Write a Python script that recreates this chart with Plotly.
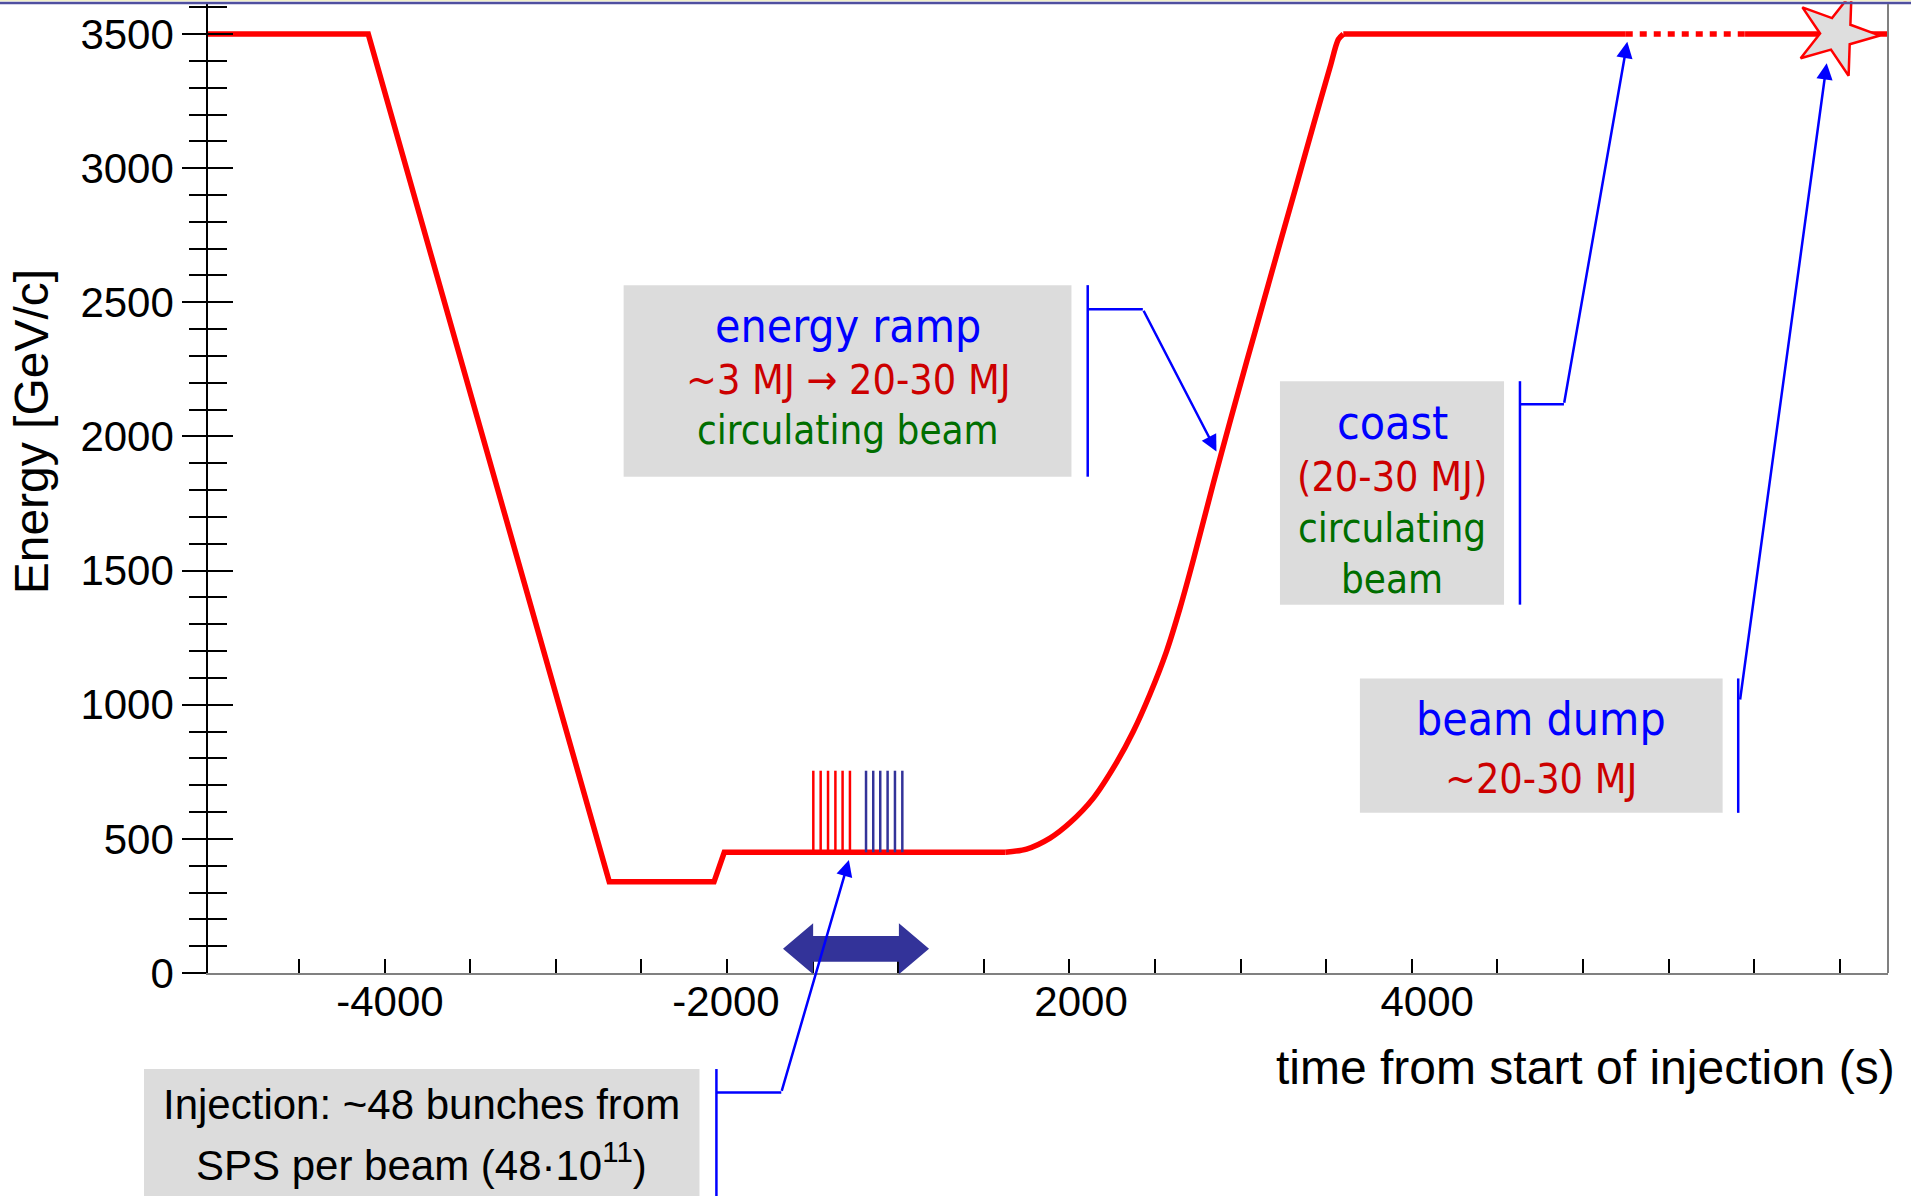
import plotly.graph_objects as go

# ---------------- data ----------------
# flat top, ramp down, injection plateau (linear segments)
pre_t = [-5032, -4096, -2688, -2076, -2016, -373]
pre_e = [3500, 3500, 340, 340, 450, 450]
# energy ramp (smooth)
ramp_t = [-373, -250, -113, 3, 140, 276, 373, 471, 568, 646, 724, 841, 938, 1036,
          1133, 1230, 1328, 1425, 1522, 1571, 1600]
ramp_e = [450, 462, 503, 560, 652, 785, 900, 1040, 1200, 1360, 1540, 1826, 2055, 2280,
          2500, 2720, 2940, 3160, 3375, 3480, 3500]
# coast
coast_t = [1600, 3250]
coast_e = [3500, 3500]
coast_dotted_t = [3250, 3947]
coast_dotted_e = [3500, 3500]
coast_end_t = [3947, 4782]
coast_end_e = [3500, 3500]

beam1_bunches = [-1496, -1453, -1410, -1367, -1325, -1282]
beam2_bunches = [-1188, -1146, -1105, -1062, -1019, -976]
bunch_base, bunch_top = 450, 754

dump_t, dump_e = [4482], [3500]

# tick marks every 500 s, labels as printed on the original
x_tickmarks = [-4500, -4000, -3500, -3000, -2500, -2000, -1500, -1000, -500, 0,
               500, 1000, 1500, 2000, 2500, 3000, 3500, 4000, 4500]
x_label_pos = [-3969, -2006, 68, 2090]
x_label_text = ["-4000", "-2000", "2000", "4000"]

XR = [-5032, 4782]
YR = [0, 3612]

RED = "#ff0000"
TXT_RED = "#cc0000"
BLUE = "#0000ff"
GREEN = "#006e00"
NAVY = "#333399"
GREY_BOX = "#dcdcdc"
BOXFONT = "DejaVu Sans Condensed, Tahoma, DejaVu Sans"
ARIAL = "Liberation Sans, Arial, sans-serif"


def px(u):
    return (u - XR[0]) / (XR[1] - XR[0])


def py(e):
    return (e - YR[0]) / (YR[1] - YR[0])


fig = go.Figure()

line_red = dict(color=RED, width=5.5)
fig.add_trace(go.Scatter(x=pre_t, y=pre_e, mode="lines", line=line_red,
                         hoverinfo="skip", showlegend=False))
fig.add_trace(go.Scatter(x=ramp_t, y=ramp_e, mode="lines",
                         line=dict(color=RED, width=5.5, shape="spline", smoothing=0.8),
                         hoverinfo="skip", showlegend=False))
fig.add_trace(go.Scatter(x=coast_t, y=coast_e, mode="lines", line=line_red,
                         hoverinfo="skip", showlegend=False))
fig.add_trace(go.Scatter(x=coast_dotted_t, y=coast_dotted_e, mode="lines",
                         line=dict(color=RED, width=5.5, dash="7px,7px"), hoverinfo="skip",
                         showlegend=False))
fig.add_trace(go.Scatter(x=coast_end_t, y=coast_end_e, mode="lines", line=line_red,
                         hoverinfo="skip", showlegend=False))


def bunch_xy(lst):
    xs, ys = [], []
    for t in lst:
        xs += [t, t, None]
        ys += [bunch_base, bunch_top, None]
    return xs, ys


bx, by = bunch_xy(beam1_bunches)
fig.add_trace(go.Scatter(x=bx, y=by, mode="lines", line=dict(color=RED, width=2.5),
                         hoverinfo="skip", showlegend=False))
bx, by = bunch_xy(beam2_bunches)
fig.add_trace(go.Scatter(x=bx, y=by, mode="lines", line=dict(color=NAVY, width=2.5),
                         hoverinfo="skip", showlegend=False, xaxis="x2", yaxis="y2"))

# beam dump star
fig.add_trace(go.Scatter(x=dump_t, y=dump_e, mode="markers", cliponaxis=False,
                         marker=dict(symbol="star", size=62, angle=20, color="#dedede",
                                     line=dict(color=RED, width=2.5)),
                         hoverinfo="skip", showlegend=False))

shapes = []
annotations = []

# grey boxes (u0, u1, e0, e1)
boxes = {
    "ramp": (-2604, 12, 1850, 2564),
    "coast": (1230, 2539, 1373, 2206),
    "dump": (1697, 3816, 597, 1098),
    "inj": (-5406, -2161, -880, -358),
}
for b in boxes.values():
    shapes.append(dict(type="rect", xref="paper", yref="paper", x0=px(b[0]), x1=px(b[1]),
                       y0=py(b[2]), y1=py(b[3]), fillcolor=GREY_BOX, line=dict(width=0),
                       layer="below"))

# brackets (vertical + horizontal blue lines)
bracket_lines = [
    ((107, 1850), (107, 2564)), ((107, 2474), (429, 2474)),
    ((2632, 1373), (2632, 2206)), ((2632, 2120), (2889, 2120)),
    ((3907, 597), (3907, 1098)),
    ((-2062, -880), (-2062, -358)), ((-2062, -445), (-1683, -445)),
]
for (a, b) in bracket_lines:
    shapes.append(dict(type="line", xref="paper", yref="paper", x0=px(a[0]), y0=py(a[1]),
                       x1=px(b[0]), y1=py(b[1]), line=dict(color=BLUE, width=2.5)))

# arrows (tail -> tip) in data units
arrows = [((429, 2474), (859, 1944)),
          ((2889, 2120), (3259, 3471)),
          ((3917, 1014), (4424, 3391)),
          ((-1683, -445), (-1288, 421))]
for (tail, tip) in arrows:
    annotations.append(dict(x=tip[0], y=tip[1], ax=tail[0], ay=tail[1], xref="x", yref="y",
                            axref="x", ayref="y", text="", showarrow=True, arrowhead=2,
                            arrowsize=1.3, arrowwidth=2.5, arrowcolor=BLUE, standoff=0,
                            startstandoff=0))

# double headed injection arrow
L, R, yc = -1673, -820, 90
head_len, head_h, shaft_h = 176, 95, 48
pts = [(L, yc), (L + head_len, yc + head_h), (L + head_len, yc + shaft_h),
       (R - head_len, yc + shaft_h), (R - head_len, yc + head_h), (R, yc),
       (R - head_len, yc - head_h), (R - head_len, yc - shaft_h),
       (L + head_len, yc - shaft_h), (L + head_len, yc - head_h)]
path = "M " + " L ".join(f"{px(u):.5f},{py(e):.5f}" for u, e in pts) + " Z"
shapes.append(dict(type="path", xref="paper", yref="paper", path=path, fillcolor=NAVY,
                   line=dict(width=0)))

# top frame line
shapes.append(dict(type="line", xref="paper", yref="paper", x0=-208 / 1680, x1=1703 / 1680,
                   y0=1.0036, y1=1.0036, line=dict(color="#f2f0c8", width=1.5)))
shapes.append(dict(type="line", xref="paper", yref="paper", x0=-208 / 1680, x1=1703 / 1680,
                   y0=1.001, y1=1.001, line=dict(color="#4f4fa0", width=2.5)))
# right frame
shapes.append(dict(type="line", xref="paper", yref="paper", x0=1, x1=1, y0=0, y1=1,
                   line=dict(color="#808080", width=2)))

# text lines in boxes
text_lines = [
    (-1293, 2413, "energy ramp", BLUE, 46, BOXFONT),
    (-1293, 2210, "~3 MJ \u2192 20-30 MJ", TXT_RED, 41, BOXFONT),
    (-1293, 2024, "circulating beam", GREEN, 40, BOXFONT),
    (1885, 2052, "coast", BLUE, 46, BOXFONT),
    (1885, 1849, "(20-30 MJ)", TXT_RED, 41, BOXFONT),
    (1885, 1660, "circulating", GREEN, 40, BOXFONT),
    (1885, 1470, "beam", GREEN, 40, BOXFONT),
    (2757, 947, "beam dump", BLUE, 46, BOXFONT),
    (2757, 722, "~20-30 MJ", TXT_RED, 41, BOXFONT),
    (-3784, -492, "Injection: ~48 bunches from", "#000000", 42, ARIAL),
    (-3784, -703, "SPS per beam (48\u00b710<sup>11</sup>)", "#000000", 42, ARIAL),
]
for (u, e, t, c, s, f) in text_lines:
    annotations.append(dict(x=px(u), y=py(e), xref="paper", yref="paper", text=t,
                            showarrow=False, xanchor="center", yanchor="middle",
                            font=dict(color=c, size=s, family=f)))

# axis titles
annotations.append(dict(x=(1896.5 - 208) / 1680, y=-0.098, xref="paper", yref="paper",
                        text="time from start of injection (s)", showarrow=False,
                        xanchor="right", yanchor="middle",
                        font=dict(size=48, family=ARIAL, color="#000000")))
annotations.append(dict(x=(31 - 208) / 1680, y=0.558, xref="paper", yref="paper",
                        text="Energy [GeV/c]", showarrow=False, textangle=-90,
                        xanchor="center", yanchor="middle",
                        font=dict(size=48, family=ARIAL, color="#000000")))

fig.update_layout(
    width=1911, height=1196,
    margin=dict(l=208, r=23, t=4, b=223, pad=0),
    paper_bgcolor="white", plot_bgcolor="white",
    showlegend=False,
    shapes=shapes, annotations=annotations,
    xaxis=dict(range=XR, showgrid=False, zeroline=False, showline=True, linecolor="#808080",
               linewidth=2, tickmode="array", tickvals=x_tickmarks, showticklabels=False,
               ticks="inside", ticklen=14, tickwidth=1.5, tickcolor="#000000"),
    xaxis2=dict(range=XR, overlaying="x", anchor="y2", side="bottom", showgrid=False,
                zeroline=False, showline=False, tickmode="array", tickvals=x_label_pos,
                ticktext=x_label_text, ticks="",
                tickfont=dict(size=42, family=ARIAL, color="#000000"),
                ticklabelstandoff=0),
    yaxis=dict(range=YR, showgrid=False, zeroline=False, showline=True, linecolor="#000000",
               linewidth=1.5, tickmode="linear", tick0=0, dtick=500, ticks="outside",
               ticklen=24, tickwidth=1.5, tickcolor="#000000",
               minor=dict(dtick=100, tick0=0, ticks="outside", ticklen=17, tickwidth=1.5,
                          tickcolor="#000000"),
               tickfont=dict(size=42, family=ARIAL, color="#000000"),
               ticklabelstandoff=0),
    yaxis2=dict(range=YR, overlaying="y", side="left", anchor="x2", showgrid=False,
                zeroline=False, showline=False, showticklabels=False, tickmode="linear",
                tick0=0, dtick=500, ticks="inside", ticklen=25, tickwidth=1.5,
                tickcolor="#000000",
                minor=dict(dtick=100, tick0=0, ticks="inside", ticklen=19, tickwidth=1.5,
                           tickcolor="#000000")),
)

fig.write_html("out.html", config={"displayModeBar": False},
               post_script="document.body.style.margin='0px';")
